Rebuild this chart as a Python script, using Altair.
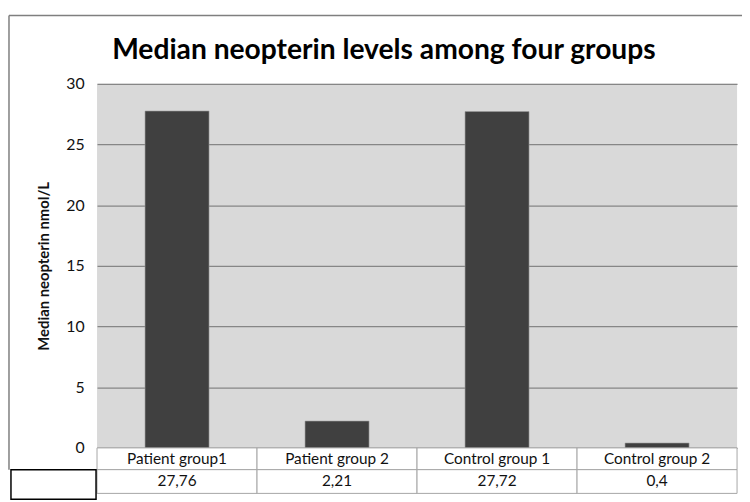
import altair as alt
import pandas as pd

categories = ["Patient group1", "Patient group 2", "Control group 1", "Control group 2"]
values = [27.76, 2.21, 27.72, 0.4]
value_labels = ["27,76", "2,21", "27,72", "0,4"]
y_ticks = [0, 5, 10, 15, 20, 25, 30]
title_text = "Median neopterin levels among four groups"
y_title = "Median neopterin nmol/L"

df = pd.DataFrame({"group": categories, "value": values, "label": value_labels})
one = pd.DataFrame({"t": [title_text]})

FONT = "Lato"
W, H = 647, 368

xenc = alt.X("group:N", sort=categories,
             scale=alt.Scale(paddingInner=0, paddingOuter=0), axis=None)

base = alt.Chart(df)

bars = base.mark_bar(color="#404040", width=alt.RelativeBandSize(0.4),
                     stroke="#9a9a9a", strokeWidth=0.6).encode(
    x=xenc,
    y=alt.Y("value:Q",
            scale=alt.Scale(domain=[0, 30], nice=False),
            axis=alt.Axis(values=y_ticks, title=y_title, grid=True,
                          gridColor="#868686", gridWidth=1.2, domain=False,
                          ticks=False, labelPadding=13, labelFontSize=16,
                          labelFont=FONT, labelColor="#111111",
                          titleFont=FONT, titleFontSize=15, titleFontWeight="bold",
                          titleColor="#111111", titleX=-54, titleY=H / 2,
                          titleAngle=-90, titleAlign="center",
                          titleBaseline="middle")),
)

row1 = base.mark_rect(fill="white", stroke="#a6a6a6", strokeWidth=1).encode(
    x=xenc, y=alt.value(H), y2=alt.value(H + 22))
row2 = base.mark_rect(fill="white", stroke="#a6a6a6", strokeWidth=1).encode(
    x=xenc, y=alt.value(H + 22), y2=alt.value(H + 46))
txt1 = base.mark_text(font=FONT, fontSize=15.5, color="#111111", baseline="middle").encode(
    x=xenc, y=alt.value(H + 11), text="group:N")
txt2 = base.mark_text(font=FONT, fontSize=15.5, color="#111111", baseline="middle").encode(
    x=xenc, y=alt.value(H + 34), text="label:N")

d1 = alt.Chart(one)
keybox = d1.mark_rect(fill="white", stroke="black", strokeWidth=1.5).encode(
    x=alt.value(-87), x2=alt.value(-1), y=alt.value(H + 22), y2=alt.value(H + 52))
border_top = d1.mark_rule(color="#7f7f7f", strokeWidth=1.5).encode(
    x=alt.value(-89), x2=alt.value(652), y=alt.value(-69))
border_left = d1.mark_rule(color="#7f7f7f", strokeWidth=1.5).encode(
    x=alt.value(-89), y=alt.value(-69), y2=alt.value(H + 22))
title = d1.mark_text(font=FONT, fontSize=28.5, fontWeight="bold", color="black",
                     align="center", baseline="alphabetic").encode(
    x=alt.value(290), y=alt.value(-25), text="t:N")

chart = alt.layer(bars, row1, row2, txt1, txt2, keybox, border_top, border_left, title).properties(
    width=W, height=H,
    background="white",
    autosize=alt.AutoSizeParams(type="none"),
    padding={"left": 90, "top": 74, "right": 5, "bottom": 52},
).configure_view(fill="#d9d9d9", strokeWidth=0)

chart.save("out.html", embed_options={"renderer": "svg", "actions": False})
